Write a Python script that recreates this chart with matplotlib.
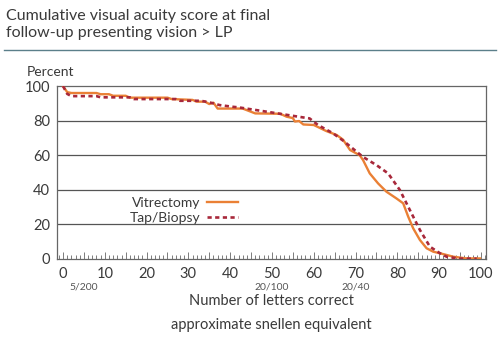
import matplotlib
matplotlib.use('Agg')
import matplotlib.pyplot as plt
from matplotlib.ticker import MultipleLocator, FuncFormatter

plt.rcParams['font.family'] = ['Lato', 'DejaVu Sans']

# Vitrectomy (solid orange)
vit_x = [0, 1, 2, 8, 9, 11, 12, 15, 16, 25, 26, 31, 32, 34, 35, 36, 37, 43, 46, 52,
         53.5, 55, 55.5, 56.5, 57.5, 60, 63, 65.5, 67, 68.7, 71, 71.8, 73.4, 75.4, 77.4,
         79.8, 81.4, 82.6, 83.8, 85.4, 87, 88.6, 90.2, 93.4, 96.6, 99.8]
vit_y = [100, 96.5, 96, 96, 95.3, 95.3, 94.4, 94.4, 93.3, 93.3, 92.5, 92, 91, 91, 89.6,
         90.4, 87, 87, 84.2, 84, 82.3, 81.5, 79.5, 79.8, 77.8, 77.5, 74, 71.7, 69, 63,
         60, 57.2, 49.5, 43.7, 38.9, 35, 32.2, 24.5, 17.7, 11, 6.2, 4.2, 3.3, 1.3, 0.3, 0.3]

# Tap/Biopsy (dashed dark red)
tap_x = [0, 1, 2, 8, 9, 16, 17, 27, 28, 33, 35, 37.5, 40.7, 42, 48.7, 55, 59, 61, 64.6, 67,
         71.8, 75, 77.8, 80.6, 83, 85.4, 87.8, 90.2, 91.8, 95, 99]
tap_y = [100, 95.5, 94.2, 94.2, 93.5, 93.5, 92.5, 92.5, 91.5, 91.5, 90.6, 89, 88, 87.7,
         85.2, 82.8, 81.3, 77.5, 72.7, 68.5, 59, 54.3, 49.5, 39.9, 28.3, 16.8, 7.1, 3.3,
         1.3, 0.2, 0.2]

snellen_pos = [5, 50, 70]
snellen_lab = ['5/200', '20/100', '20/40']

txt = '#3a3a3a'
fig = plt.figure(figsize=(5, 3.43), dpi=100)
fig.patch.set_facecolor('white')

# titel + linie
fig.text(0.012, 0.975, 'Cumulative visual acuity score at final\nfollow-up presenting vision > LP',
         fontsize=11.5, color=txt, va='top', ha='left', linespacing=1.3)
fig.add_artist(plt.Line2D([0.008, 0.992], [0.854, 0.854], color='#5b7f8a', lw=1.0))

ax = fig.add_axes([0.114, 0.245, 0.857, 0.504])
for y in [20, 40, 60, 80]:
    ax.axhline(y, color='#555555', lw=0.9, zorder=1)

ax.plot(vit_x, vit_y, color='#ea8035', lw=1.7, label='Vitrectomy', zorder=3)
ax.plot(tap_x, tap_y, color='#a8283a', lw=1.9, dashes=(1.6, 1.3), label='Tap/Biopsy', zorder=4)

ax.set_xlim(-1.44, 101.1)
ax.set_ylim(0, 100)
for s in ax.spines.values():
    s.set_color('#666666')
    s.set_linewidth(0.9)

ax.xaxis.set_major_locator(MultipleLocator(5))
ax.xaxis.set_minor_locator(MultipleLocator(1))
ax.xaxis.set_major_formatter(FuncFormatter(lambda v, p: '%d' % v if v % 10 == 0 else ''))
ax.tick_params(axis='x', which='major', direction='in', length=5, width=0.6, color='#666666',
               labelsize=10.5, labelcolor=txt, pad=6)
ax.tick_params(axis='x', which='minor', direction='in', length=3, width=0.6, color='#666666')
ax.set_yticks([0, 20, 40, 60, 80, 100])
ax.tick_params(axis='y', length=0, labelsize=10.5, labelcolor=txt, pad=5)

ax.text(-0.07, 1.045, 'Percent', transform=ax.transAxes, fontsize=10, color=txt, ha='left', va='bottom')

for p, l in zip(snellen_pos, snellen_lab):
    ax.text(p, -0.135, l, transform=ax.get_xaxis_transform(), fontsize=7.5, color='#555555',
            ha='center', va='top')

fig.text(0.543, 0.122, 'Number of letters correct', fontsize=10.5, color=txt, ha='center', va='center')
fig.text(0.543, 0.052, 'approximate snellen equivalent', fontsize=10.5, color=txt, ha='center', va='center')

leg = ax.legend(loc='upper left', bbox_to_anchor=(0.153, 0.40), frameon=False, markerfirst=False,
                fontsize=10, handlelength=2.2, handletextpad=0.5, labelspacing=0.2, borderpad=0)
for t in leg.get_texts():
    t.set_color(txt)

fig.savefig('out.png', dpi=100, facecolor='white')
